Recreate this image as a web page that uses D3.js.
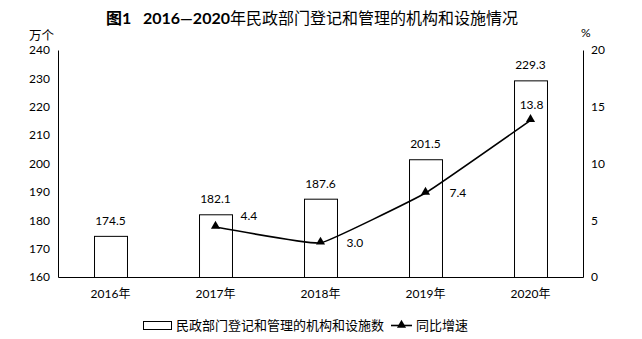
<!DOCTYPE html>
<html><head><meta charset="utf-8">
<script src="https://cdn.jsdelivr.net/npm/d3@7"></script>
<style>
html,body{margin:0;padding:0;background:#fff;}
text{font-family:Lato,"Noto Sans CJK SC",sans-serif;fill:#000;}
</style></head>
<body>
<svg id="c" width="642" height="339"></svg>
<script>
const years = ["2016年","2017年","2018年","2019年","2020年"];
const counts = [174.5,182.1,187.6,201.5,229.3];
const growthYears = ["2017年","2018年","2019年","2020年"];
const growth = [4.4,3.0,7.4,13.8];
const leftTicks = [160,170,180,190,200,210,220,230,240];
const rightTicks = [0,5,10,15,20];
const titleA = "图1\u00a0\u00a0 2016—2020";
const titleB = "年民政部门登记和管理的机构和设施情况";
const barName = "民政部门登记和管理的机构和设施数";
const lineName = "同比增速";

const svg = d3.select("#c");
const m = {l:58, r:583, t:50, b:277};
const x = d3.scaleBand().domain(years).range([m.l, m.r]).paddingInner(0.686).paddingOuter(0.343);
const yL = d3.scaleLinear().domain([160,240]).range([m.b, m.t]);
const yR = d3.scaleLinear().domain([0,20]).range([m.b, m.t]);

// title
const tt = svg.append("text").attr("x",312).attr("y",24).attr("text-anchor","middle").style("font-size","16px");
tt.append("tspan").style("font-weight","bold").text(titleA);
tt.append("tspan").style("font-weight","normal").text(titleB);
svg.append("text").attr("x",29).attr("y",40).style("font-size","12.5px").text("万个");
svg.append("text").attr("x",581).attr("y",37).style("font-size","12px").text("%");

// axes
const axL = d3.axisLeft(yL).tickValues(leftTicks).tickSize(0).tickPadding(8);
const gL = svg.append("g").attr("transform",`translate(${m.l},0)`).call(axL);
const axR = d3.axisRight(yR).tickValues(rightTicks).tickSize(0).tickPadding(8);
const gR = svg.append("g").attr("transform",`translate(${m.r},0)`).call(axR);
const axB = d3.axisBottom(x).tickSize(0).tickPadding(12);
const gB = svg.append("g").attr("transform",`translate(0,${m.b})`).call(axB);
[gL,gR,gB].forEach(g=>{
  g.select(".domain").attr("stroke","#000").attr("stroke-width",1);
  g.selectAll("text").style("font-size","12px").style("font-family",'Lato,"Noto Sans CJK SC",sans-serif').attr("fill","#000");
});

// bars
svg.append("g").selectAll("rect").data(counts).join("rect")
  .attr("x",(d,i)=>x(years[i])+0.5).attr("y",d=>yL(d)+0.5)
  .attr("width",x.bandwidth()).attr("height",d=>m.b-yL(d))
  .attr("fill","#fff").attr("stroke","#000").attr("stroke-width",1);
svg.append("g").selectAll("text").data(counts).join("text")
  .attr("x",(d,i)=>x(years[i])+x.bandwidth()/2).attr("y",d=>yL(d)-11)
  .attr("text-anchor","middle").style("font-size","12px").text(d=>d.toFixed(1));

// line
const cx = (i)=>x(growthYears[i])+x.bandwidth()/2;
const line = d3.line().x((d,i)=>cx(i)).y(d=>yR(d)).curve(d3.curveCardinal.tension(0.75));
svg.append("path").datum(growth).attr("d",line).attr("fill","none").attr("stroke","#000").attr("stroke-width",1.6);
const tri = d3.symbol().type(d3.symbolTriangle).size(36);
svg.append("g").selectAll("path").data(growth).join("path")
  .attr("d",tri).attr("transform",(d,i)=>`translate(${cx(i)},${yR(d)-1})`).attr("fill","#000");
const lblOff = [[25,-7,"start"],[26,4,"start"],[24,4,"start"],[1,-11,"middle"]];
svg.append("g").selectAll("text").data(growth).join("text")
  .attr("x",(d,i)=>cx(i)+lblOff[i][0]).attr("y",(d,i)=>yR(d)+lblOff[i][1])
  .attr("text-anchor",(d,i)=>lblOff[i][2]).style("font-size","12px").text(d=>d.toFixed(1));

// legend
const lg = svg.append("g");
lg.append("rect").attr("x",143.5).attr("y",321.5).attr("width",28).attr("height",8).attr("fill","#fff").attr("stroke","#000");
lg.append("text").attr("x",176).attr("y",330).style("font-size","13px").text(barName);
lg.append("line").attr("x1",391).attr("x2",412).attr("y1",325.5).attr("y2",325.5).attr("stroke","#000").attr("stroke-width",1.6);
lg.append("path").attr("d",tri).attr("transform","translate(401.5,325)").attr("fill","#000");
lg.append("text").attr("x",416).attr("y",330).style("font-size","13px").text(lineName);
</script>
</body></html>
